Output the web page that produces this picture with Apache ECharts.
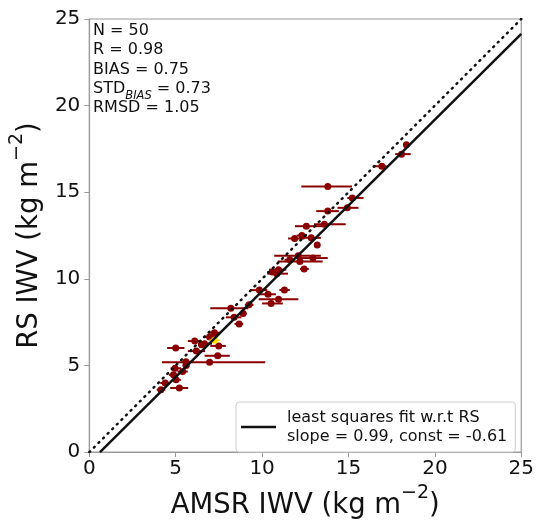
<!DOCTYPE html>
<html>
<head>
<meta charset="utf-8">
<script src="https://cdn.jsdelivr.net/npm/echarts@6/dist/echarts.min.js"></script>
<style>html,body{margin:0;padding:0;background:#fff}#c{width:537px;height:525px}</style>
</head>
<body>
<div id="c"></div>
<script>
// AMSR IWV (x), RS IWV (y), x error bar ends
var amsr = [18.35,18.07,16.93,13.8,15.22,14.93,13.8,13.6,12.56,12.84,11.88,13.19,12.09,12.94,12.18,12.43,10.95,10.85,9.84,11.29,10.34,10.95,10.52,8.19,9.24,8.38,8.67,6.96,7.49,6.1,7.24,6.67,5.0,6.19,7.43,6.96,5.59,4.96,5.4,4.87,4.39,5.02,5.21,4.14,11.6,10.6,8.9,5.6,6.5,12.3];
var rs   = [17.74,17.2,16.5,15.33,14.67,14.1,13.91,13.15,13.04,12.37,12.33,11.96,11.33,11.2,11.0,10.57,10.53,10.3,9.35,9.36,9.11,8.83,8.58,8.31,8.5,7.78,7.4,6.64,6.13,6.41,6.89,6.26,6.01,5.83,5.56,5.18,5.22,4.84,4.65,4.46,3.99,4.17,3.7,3.6,11.1,10.4,8.0,5.0,6.2,12.5];
var xLow = [18.2,17.7,16.4,12.27,14.93,14.36,13.13,13.0,11.9,12.3,11.5,13.1,10.7,12.1,10.9,12.2,10.4,10.3,9.3,11.0,9.8,9.8,10.0,7.0,9.0,7.9,8.4,6.6,7.0,5.7,6.9,6.3,4.5,5.7,6.67,4.2,5.4,4.7,5.1,4.6,4.1,4.8,4.68,3.9,11.3,10.3,8.7,5.4,6.3,12.0];
var xHigh= [18.5,18.6,17.2,15.2,15.87,15.58,14.44,14.84,13.6,13.4,12.45,13.3,13.4,13.8,13.5,12.7,11.4,11.5,10.3,11.6,10.8,12.1,11.2,9.2,9.5,8.8,8.9,7.4,7.9,6.5,7.6,7.1,5.5,6.7,8.13,10.18,5.8,5.3,5.7,5.1,4.6,5.3,5.72,4.4,11.9,10.9,9.1,5.8,6.7,12.6];
// highlighted point
var hlX = [7.25], hlY = [6.45], hlLow = [6.95], hlHigh = [7.55];
var xTicks = [0,5,10,15,20,25];
var yTicks = [0,5,10,15,20,25];
var fitSlope = 0.99, fitConst = -0.61;
var statsLines = ['N = 50','R = 0.98','BIAS = 0.75','STD|BIAS| = 0.73','RMSD = 1.05'];
var legendLines = ['least squares fit w.r.t RS','slope = 0.99, const = -0.61'];
var xTitle = ['AMSR IWV (kg m','\u22122',')'];
var yTitle = ['RS IWV (kg m','\u22122',')'];

var pts = amsr.map(function(v,i){return [v, rs[i], xLow[i], xHigh[i]];});
var hl = hlX.map(function(v,i){return [v, hlY[i], hlLow[i], hlHigh[i]];});
var fitData = [[-fitConst/fitSlope, 0],[xTicks[xTicks.length-1], fitSlope*xTicks[xTicks.length-1]+fitConst]];
var oneToOne = [[xTicks[0], yTicks[0]],[xTicks[xTicks.length-1], yTicks[yTicks.length-1]]];

function errBar(color){
  return function(params, api){
    var p1 = api.coord([api.value(2), api.value(1)]);
    var p2 = api.coord([api.value(3), api.value(1)]);
    return {type:'line', shape:{x1:p1[0],y1:p1[1],x2:p2[0],y2:p2[1]}, style:{stroke:color, lineWidth:2}};
  };
}
var statsText = statsLines.map(function(s){
  var parts = s.split('|');
  if (parts.length === 3) return '{m|' + parts[0] + '}{s|' + parts[1] + '}{m|' + parts[2] + '}';
  return '{m|' + s + '}';
}).join('\n');
function supTitle(t){ return '{n|' + t[0] + '}{p|' + t[1] + '}{n|' + t[2] + '}'; }

var chart = echarts.init(document.getElementById('c'), null, {renderer:'canvas'});
var F = 'DejaVu Sans';
var titleRich = {
  n:{fontSize:27.5, color:'#111', fontFamily:F, lineHeight:36, verticalAlign:'bottom'},
  p:{fontSize:19, color:'#111', fontFamily:F, lineHeight:36, verticalAlign:'top'}
};
chart.setOption({
  animation:false,
  textStyle:{fontFamily:F},
  grid:{left:84.6, top:19, width:438.7, height:439, show:true, borderColor:'#999', borderWidth:1.2, backgroundColor:'transparent'},
  xAxis:{type:'value', min:0, max:25, interval:5,
    name:supTitle(xTitle), nameLocation:'middle', nameGap:29,
    nameTextStyle:{fontSize:27.5, color:'#111', fontFamily:F, rich:titleRich},
    axisLine:{show:true, lineStyle:{color:'#999', width:1.2}},
    axisTick:{show:true, inside:false, length:5, lineStyle:{color:'#999'}},
    axisLabel:{fontSize:20, color:'#111', margin:7, fontFamily:F},
    splitLine:{show:false}},
  yAxis:{type:'value', min:0, max:25, interval:5,
    name:supTitle(yTitle), nameLocation:'middle', nameGap:36, nameRotate:90,
    nameTextStyle:{fontSize:27.5, color:'#111', fontFamily:F, rich:titleRich},
    axisLine:{show:true, lineStyle:{color:'#999', width:1.2}},
    axisTick:{show:true, inside:false, length:5, lineStyle:{color:'#999'}},
    axisLabel:{fontSize:20, color:'#111', margin:9, fontFamily:F},
    splitLine:{show:false}},
  legend:{data:[{name:'fit', icon:'rect'}], left:236, top:402, orient:'vertical',
    padding:[6,8,6,5], itemWidth:35, itemHeight:2.5,
    itemStyle:{color:'#111', borderWidth:0},
    backgroundColor:'#fff', borderColor:'#ccc', borderWidth:1, borderRadius:3,
    formatter:function(){return legendLines.join('\n');},
    textStyle:{fontSize:16, lineHeight:19, color:'#111', fontFamily:F, padding:[0,0,0,6]}},
  graphic:[{type:'text', left:93, top:23, z:10,
    style:{text:statsText, fontFamily:F, rich:{
      m:{fontSize:16, lineHeight:19.3, fill:'#111', fontFamily:F},
      s:{fontSize:11.5, fontStyle:'italic', lineHeight:19.3, fill:'#111', fontFamily:F, verticalAlign:'bottom', padding:[0,0,-3,0]}
    }}}],
  series:[
    {type:'custom', name:'err', renderItem:errBar('#8B0000'), data:pts, encode:{x:[0,2,3], y:1}, z:2, silent:true},
    {type:'scatter', name:'pts', data:pts, symbolSize:7, itemStyle:{color:'#8B0000', opacity:1}, z:3, silent:true},
    {type:'custom', name:'hlerr', renderItem:errBar('#FFE400'), data:hl, encode:{x:[0,2,3], y:1}, z:4, silent:true},
    {type:'scatter', name:'hl', data:hl, symbolSize:7, itemStyle:{color:'#FFE400', opacity:1}, z:4, silent:true},
    {type:'line', name:'one', data:oneToOne, symbol:'none', lineStyle:{color:'#111', width:2.5, type:[1,5.5], cap:'round'}, z:5, silent:true},
    {type:'line', name:'fit', data:fitData, symbol:'none', itemStyle:{color:'#111'}, lineStyle:{color:'#111', width:2.5}, z:6, silent:true}
  ]
});
</script>
</body>
</html>
